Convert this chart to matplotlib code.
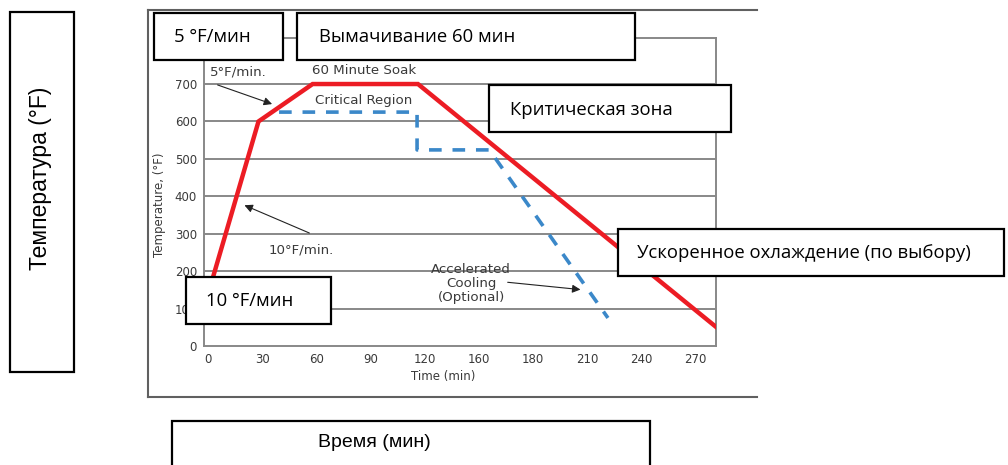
import matplotlib
matplotlib.use("Agg")
import matplotlib.pyplot as plt
from matplotlib.patches import Rectangle

# ---- data ----
heat_time = [2.8, 28, 58, 116.4, 281.6]
heat_temp = [184, 600, 700, 700, 51]

accel_time = [39.4, 115.9, 115.9, 156, 221.7]
accel_temp = [625, 625, 524, 524, 75]

x_ticks = [0, 30, 60, 90, 120, 150, 180, 210, 240, 270]
x_tick_labels = ["0", "30", "60", "90", "120", "160", "180", "210", "240", "270"]
y_ticks = [0, 100, 200, 300, 400, 500, 600, 700]
y_tick_labels = ["0", "100", "200", "300", "400", "500", "600", "700"]

W, H = 1008, 465
fig = plt.figure(figsize=(W / 100, H / 100), dpi=100)
fig.patch.set_facecolor("white")

def fx(px):
    return px / W

def fy(py):
    return 1 - py / H

# main chart axes (pixel box 204..716 x 38..346)
ax = fig.add_axes([fx(204), fy(346), fx(716) - fx(204), fy(38) - fy(346)])
ax.set_xlim(-2.2, 281.6)
ax.set_ylim(0, 823)
gridc = "#888888"
for v in y_ticks[1:]:
    ax.axhline(v, color=gridc, lw=1.4, zorder=1)
for s in ax.spines.values():
    s.set_color(gridc)
    s.set_linewidth(1.4)
ax.plot(heat_time, heat_temp, color="#ec1c24", lw=3.2, solid_joinstyle="miter", zorder=3)
ax.plot(accel_time, accel_temp, color="#3b88c9", lw=2.6, dashes=(3.5, 3.0), zorder=3)

tc = "#3a3a3a"
tfont = "DejaVu Sans"
ax.set_xticks(x_ticks)
ax.set_xticklabels(x_tick_labels)
ax.set_yticks(y_ticks)
ax.set_yticklabels(y_tick_labels)
ax.tick_params(length=0, labelsize=8.5, colors=tc, pad=5)
for lab in ax.get_xticklabels() + ax.get_yticklabels():
    lab.set_family(tfont)
ax.set_xlabel("Time (min)", fontsize=8.5, color=tc, family=tfont)
ax.xaxis.set_label_coords(0.467, -0.1006)
ax.xaxis.label.set_va("center")
ax.set_ylabel("Temperature, (°F)", fontsize=8.5, color=tc, family=tfont)
ax.yaxis.set_label_coords(-0.086, 0.458)
ax.yaxis.label.set_va("center")

# embedded annotations
af = 9.6
ax.text(1.1, 732, "5°F/min.", fontsize=af, color=tc, ha="left", va="center", family=tfont)
ax.text(86.5, 735, "60 Minute Soak", fontsize=af, color=tc, ha="center", va="center", family=tfont)
ax.text(86.5, 657, "Critical Region", fontsize=af, color=tc, ha="center", va="center", family=tfont)
ax.text(51.5, 256, "10°F/min.", fontsize=af, color=tc, ha="center", va="center", family=tfont)
ax.text(145.8, 168, "Accelerated\nCooling\n(Optional)", fontsize=af, color=tc, ha="center",
        va="center", family=tfont, linespacing=1.1)
arrowprops = dict(arrowstyle="-|>", color="#222222", lw=0.8, mutation_scale=12)
ax.annotate("", xy=(37, 644), xytext=(3.9, 700), arrowprops=arrowprops)
ax.annotate("", xy=(18.8, 379), xytext=(57.6, 299), arrowprops=arrowprops)
ax.annotate("", xy=(208, 150), xytext=(164.6, 171), arrowprops=arrowprops)

# overlay in pixel coordinates
ov = fig.add_axes([0, 0, 1, 1], zorder=10)
ov.set_xlim(0, W)
ov.set_ylim(H, 0)
ov.axis("off")
ov.patch.set_alpha(0)

framec = "#606060"
ov.plot([148, 757], [10, 10], color=framec, lw=1.5)
ov.plot([148, 148], [10, 397], color=framec, lw=1.5)
ov.plot([148, 757], [397, 397], color=framec, lw=1.5)

cal = ["Open Sans", "DejaVu Sans"]
ari = ["Liberation Sans", "DejaVu Sans"]

def box(x0, y0, x1, y1, text, tx, ty, fam, size, rot=0, ha="left"):
    ov.add_patch(Rectangle((x0, y0), x1 - x0, y1 - y0, facecolor="white",
                           edgecolor="black", lw=1.6))
    ov.text(tx, ty, text, fontsize=size, family=fam, color="black", ha=ha,
            va="center", rotation=rot)

bs = 13.3
box(154, 13, 283, 60, "5 °F/мин", 174, 37, cal, bs)
box(297, 13, 635, 60, "Вымачивание 60 мин", 319, 37, cal, bs)
box(489, 85, 731, 132, "Критическая зона", 510, 110, cal, bs)
box(618, 229, 1004, 276, "Ускоренное охлаждение (по выбору)", 637, 253, cal, bs)
box(186, 277, 331, 324, "10 °F/мин", 206, 301, cal, bs)
box(10, 12, 74, 372, "Температура (°F)", 41, 178, ari, 16.5, rot=90, ha="center")
box(172, 421, 650, 470, "Время (мин)", 374, 442, ari, 14, ha="center")

fig.savefig("out.png", dpi=100)
